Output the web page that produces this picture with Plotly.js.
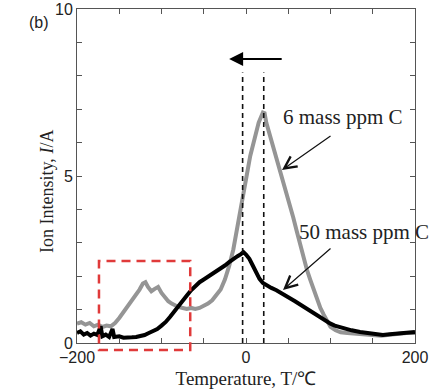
<!DOCTYPE html>
<html>
<head>
<meta charset="utf-8">
<script src="https://cdn.plot.ly/plotly-3.0.1.min.js"></script>
<style>html,body{margin:0;padding:0;background:#fff;}</style>
</head>
<body>
<div id="chart" style="width:432px;height:390px;"></div>
<script>
// 6 mass ppm C (gray)
const tempGray = [-200,-195,-190,-185,-180,-175,-170,-165,-160,-155,-150,-145,-140,-135,-130,-126,-122,-119,-116,-112,-108,-104,-100,-96,-92,-88,-84,-80,-75,-70,-65,-60,-55,-50,-45,-40,-35,-30,-25,-20,-15,-10,-5,0,5,10,15,20,22,24,28,32,36,40,44,48,52,56,60,64,68,72,76,80,84,88,92,96,100,106,112,120,130,140,150,160,170,180,190,200];
const ionGray  = [0.58,0.62,0.55,0.6,0.5,0.55,0.48,0.52,0.5,0.6,0.75,0.92,1.08,1.25,1.42,1.6,1.78,1.82,1.68,1.55,1.62,1.68,1.5,1.35,1.25,1.18,1.12,1.08,1.05,1.02,1.05,1.02,1.05,1.1,1.18,1.28,1.42,1.6,1.9,2.3,2.8,3.45,4.15,4.9,5.6,6.15,6.6,6.9,6.88,6.6,6.25,5.85,5.5,5.2,4.9,4.5,4.1,3.75,3.35,2.95,2.58,2.2,1.9,1.6,1.35,1.05,0.85,0.65,0.48,0.38,0.32,0.3,0.28,0.25,0.25,0.22,0.25,0.28,0.3,0.3];

// 50 mass ppm C (black)
const tempBlack = [-200,-196,-192,-188,-184,-180,-176,-172,-170,-166,-162,-158,-156,-150,-145,-140,-135,-130,-125,-120,-115,-110,-105,-100,-95,-90,-85,-80,-75,-70,-65,-60,-55,-50,-45,-40,-35,-30,-25,-20,-15,-10,-6,-3,0,4,8,12,16,20,25,30,36,42,48,52,58,64,68,74,80,84,88,94,100,105,111,118,125,135,145,155,162,170,178,185,192,200];
const ionBlack  = [0.3,0.35,0.25,0.3,0.22,0.28,0.24,0.5,0.2,0.25,0.18,0.42,0.18,0.2,0.16,0.18,0.17,0.18,0.2,0.24,0.3,0.35,0.42,0.52,0.63,0.78,0.93,1.08,1.25,1.42,1.58,1.72,1.82,1.9,1.98,2.06,2.14,2.22,2.32,2.42,2.52,2.6,2.66,2.72,2.65,2.52,2.32,2.1,1.92,1.8,1.72,1.65,1.58,1.5,1.42,1.34,1.25,1.15,1.08,0.98,0.9,0.84,0.76,0.65,0.58,0.52,0.47,0.42,0.38,0.33,0.3,0.26,0.24,0.26,0.28,0.3,0.32,0.33];

const xTickVals = [-200,-150,-100,-50,0,50,100,150,200];
const xTickText = ['\u2212200','','','','0','','','','200'];
const yTickVals = [0,1,2,3,4,5,6,7,8,9,10];
const yTickText = ['0','','','','','5','','','','','10'];

const serif = 'Liberation Serif, Times New Roman, serif';
const sans = 'Liberation Sans, Arial, sans-serif';

const traces = [
  {x: tempGray, y: ionGray, mode: 'lines', line: {color: '#959595', width: 4}, hoverinfo: 'skip'},
  {x: tempBlack, y: ionBlack, mode: 'lines', line: {color: '#000000', width: 4}, hoverinfo: 'skip'}
];

const axisBase = {
  ticks: 'inside', ticklen: 5, tickcolor: '#555', showline: true, linecolor: '#555', linewidth: 1,
  mirror: 'ticks', zeroline: false, showgrid: false,
  tickfont: {family: sans, size: 16, color: '#222'}
};

const layout = {
  width: 432, height: 390,
  margin: {l: 77, r: 17, t: 9, b: 47},
  paper_bgcolor: '#fff', plot_bgcolor: '#fff',
  showlegend: false,
  xaxis: Object.assign({}, axisBase, {
    range: [-200, 200], tickmode: 'array', tickvals: xTickVals, ticktext: xTickText,
    title: {text: 'Temperature, T/\u2103', font: {family: serif, size: 19, color: '#222'}, standoff: 6}
  }),
  yaxis: Object.assign({}, axisBase, {
    range: [0, 10], tickmode: 'array', tickvals: yTickVals, ticktext: yTickText
  }),
  shapes: [
    {type: 'line', xref: 'x', yref: 'y', x0: -4, x1: -4, y0: 0, y1: 8.1, line: {color: '#111', width: 1.6, dash: '5px,4px'}},
    {type: 'line', xref: 'x', yref: 'y', x0: 21, x1: 21, y0: 0, y1: 8.1, line: {color: '#111', width: 1.6, dash: '5px,4px'}},
    {type: 'rect', xref: 'x', yref: 'paper', x0: -174, x1: -66, y0: -0.021, y1: 0.2455, line: {color: '#e03a3a', width: 2.5, dash: '9px,6px'}, fillcolor: 'rgba(0,0,0,0)'}
  ],
  annotations: [
    {xref: 'paper', yref: 'paper', x: -0.148, y: 0.961, xanchor: 'left', yanchor: 'middle', text: '(b)', showarrow: false, font: {family: sans, size: 16, color: '#222'}},
    {xref: 'paper', yref: 'paper', x: -0.089, y: 0.455, xanchor: 'center', yanchor: 'middle', textangle: -90, text: 'Ion Intensity, <i>I</i>/A', showarrow: false, font: {family: serif, size: 18, color: '#222'}},
    {xref: 'x', yref: 'y', x: -20, y: 8.5, ax: 44, ay: 8.5, axref: 'x', ayref: 'y', text: '', showarrow: true, arrowhead: 2, arrowsize: 1.4, arrowwidth: 2, arrowcolor: '#000', standoff: 0},
    {xref: 'x', yref: 'y', x: 41, y: 6.77, xanchor: 'left', yanchor: 'middle', text: '6 mass ppm C', showarrow: false, font: {family: serif, size: 21, color: '#222'}},
    {xref: 'x', yref: 'y', x: 42.6, y: 5.18, ax: 101.8, ay: 6.23, axref: 'x', ayref: 'y', text: '', showarrow: true, arrowhead: 5, arrowsize: 2, arrowwidth: 1.2, arrowcolor: '#111', standoff: 0},
    {xref: 'x', yref: 'y', x: 60, y: 3.32, xanchor: 'left', yanchor: 'middle', text: '50 mass ppm C', showarrow: false, font: {family: serif, size: 21, color: '#222'}},
    {xref: 'x', yref: 'y', x: 43.8, y: 1.59, ax: 101.8, ay: 2.87, axref: 'x', ayref: 'y', text: '', showarrow: true, arrowhead: 5, arrowsize: 2, arrowwidth: 1.2, arrowcolor: '#111', standoff: 0}
  ]
};

Plotly.newPlot('chart', traces, layout, {displayModeBar: false, staticPlot: true});
</script>
</body>
</html>
